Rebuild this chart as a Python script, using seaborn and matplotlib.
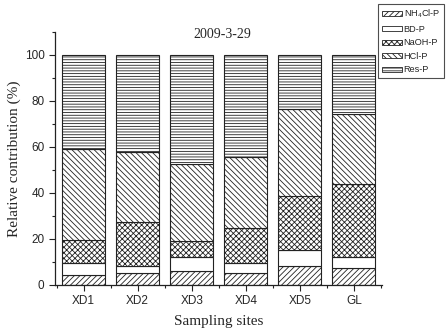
import numpy as np
import pandas as pd
import matplotlib
matplotlib.use("Agg")
import matplotlib.pyplot as plt
import seaborn as sns
from matplotlib.patches import Patch
from matplotlib.ticker import MultipleLocator

sns.set_theme(style="ticks")
plt.rcParams["font.family"] = ["Liberation Sans", "DejaVu Sans"]
plt.rcParams["mathtext.fontset"] = "custom"
plt.rcParams["mathtext.rm"] = "Liberation Sans"
plt.rcParams["mathtext.it"] = "Liberation Sans:italic"
plt.rcParams["hatch.linewidth"] = 0.6

sites = ["XD1", "XD2", "XD3", "XD4", "XD5", "GL"]
fractions = ["NH$_4$Cl-P", "BD-P", "NaOH-P", "HCl-P", "Res-P"]
nh4cl_p = [4.2, 5.2, 6.1, 5.2, 8.3, 7.1]
bd_p = [5.1, 2.9, 5.8, 4.1, 6.8, 4.8]
naoh_p = [10.1, 19.3, 7.2, 15.2, 23.6, 31.9]
hcl_p = [39.6, 30.4, 33.4, 31.2, 37.6, 30.3]
res_p = [41.0, 42.2, 47.5, 44.3, 23.7, 25.9]
hatches = ["//////", "", "xxxxxx", "\\\\\\\\\\\\", "------"]

df = pd.DataFrame({"site": sites, fractions[0]: nh4cl_p, fractions[1]: bd_p,
                   fractions[2]: naoh_p, fractions[3]: hcl_p, fractions[4]: res_p})

fig = plt.figure(figsize=(4.46, 3.35), dpi=100)
ax = fig.add_axes([0.1233, 0.150, 0.733, 0.755])

# stacked bars, bottom to top
bottom = np.zeros(len(sites))
for name, hatch in zip(fractions, hatches):
    ax.bar(np.arange(len(sites)), df[name], width=0.8, bottom=bottom,
           color="white", edgecolor="#222222", linewidth=0.8, hatch=hatch)
    bottom += df[name].values

ax.set_xlim(-0.53, 5.52)
ax.set_ylim(0, 110)
ax.set_xticks(np.arange(len(sites)))
ax.set_xticklabels(sites)
ax.xaxis.set_minor_locator(MultipleLocator(1, offset=0.5))
ax.yaxis.set_minor_locator(MultipleLocator(10))
ax.set_yticks([0, 20, 40, 60, 80, 100])
ax.tick_params(axis="both", which="major", direction="out", length=4, width=0.8,
               labelsize=8.5, color="#222222")
ax.tick_params(axis="both", which="minor", direction="out", length=2.5, width=0.8,
               color="#222222")
sns.despine(ax=ax)
for s in ["left", "bottom"]:
    ax.spines[s].set_linewidth(0.9)
    ax.spines[s].set_color("#222222")

ax.set_ylabel("Relative contribution (%)", family="Liberation Serif", fontsize=11,
              labelpad=3)
ax.set_xlabel("Sampling sites", family="Liberation Serif", fontsize=11, labelpad=6)
ax.text(2.56, 109, "2009-3-29", family="Liberation Serif", fontsize=10,
        ha="center", va="center")

handles = [Patch(facecolor="white", edgecolor="#222222", hatch=h, linewidth=0.6)
           for h in hatches]
leg = fig.legend(handles, fractions, loc="upper left",
                 bbox_to_anchor=(378 / 446, 1 - 4 / 335), fontsize=6.6,
                 frameon=True, fancybox=False, handlelength=2.2, handleheight=0.45,
                 handletextpad=0.2, labelspacing=0.5, borderpad=0.4,
                 borderaxespad=0)
leg.get_frame().set_edgecolor("#222222")
leg.get_frame().set_linewidth(0.8)

fig.savefig("out.png", dpi=100)
